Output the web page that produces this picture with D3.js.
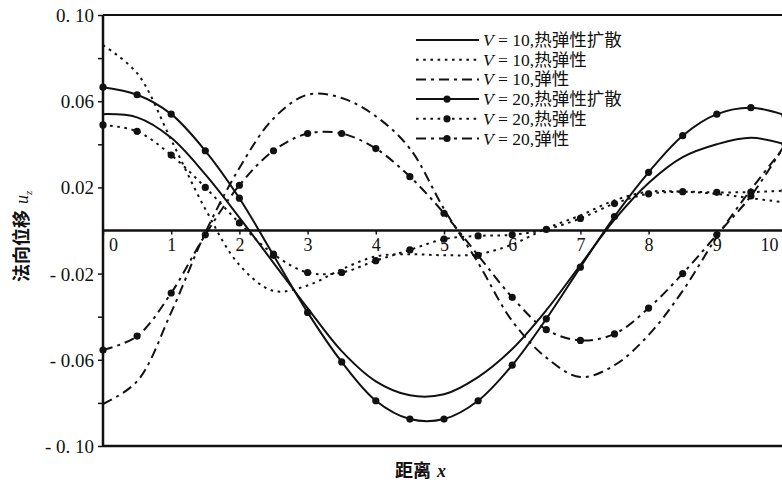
<!DOCTYPE html>
<html><head><meta charset="utf-8">
<script src="https://cdn.jsdelivr.net/npm/d3@7/dist/d3.min.js"></script>
<style>
html,body{margin:0;padding:0;background:#fff;}
svg{display:block;}
</style></head>
<body>
<svg id="chart" width="782" height="485"></svg>
<script>
// ---------- data ----------
const distances = [0,0.5,1,1.5,2,2.5,3,3.5,4,4.5,5,5.5,6,6.5,7,7.5,8,8.5,9,9.5,10];

const v10Diffusion = [0.054,0.0525,0.043,0.026,0.006,-0.015,-0.036,-0.056,-0.070,-0.0765,-0.076,-0.068,-0.055,-0.037,-0.016,0.005,0.022,0.034,0.040,0.043,0.040];
const v10Thermo    = [0.086,0.073,0.042,0.010,-0.016,-0.028,-0.0255,-0.018,-0.012,-0.011,-0.0115,-0.011,-0.0065,0.001,0.007,0.014,0.018,0.018,0.017,0.015,0.013];
const v10Elastic   = [-0.0805,-0.070,-0.038,-0.001,0.029,0.052,0.063,0.0615,0.053,0.038,0.010,-0.015,-0.042,-0.059,-0.068,-0.0625,-0.0485,-0.028,-0.003,0.019,0.039];
const v20Diffusion = [0.0665,0.063,0.054,0.037,0.015,-0.0115,-0.038,-0.061,-0.079,-0.0875,-0.0875,-0.079,-0.0625,-0.041,-0.017,0.0065,0.027,0.044,0.054,0.057,0.0535];
const v20Thermo    = [0.049,0.046,0.035,0.020,0.0035,-0.011,-0.0195,-0.0195,-0.014,-0.009,-0.004,-0.0025,-0.002,0.0005,0.0056,0.0125,0.017,0.018,0.0177,0.0178,0.0185];
const v20Elastic   = [-0.0555,-0.049,-0.029,-0.002,0.021,0.037,0.045,0.045,0.038,0.025,0.008,-0.0115,-0.031,-0.046,-0.051,-0.048,-0.036,-0.020,-0.002,0.016,0.040];

const legendSymbol = ["V","V","V","V","V","V"];
const legendValue  = [" = 10,"," = 10,"," = 10,"," = 20,"," = 20,"," = 20,"];
const legendKind   = ["热弹性扩散","热弹性","弹性","热弹性扩散","热弹性","弹性"];

const xTickValues = [0,1,2,3,4,5,6,7,8,9,10];
const xTickLabels = ["0","1","2","3","4","5","6","7","8","9","10"];
const yMajorValues = [0.10,0.06,0.02,-0.02,-0.06,-0.10];
const yMajorLabels = ["0. 10","0.06","0.02","- 0.02","- 0.06","- 0. 10"];
const yMinorValues = [0.08,0.04,-0.04,-0.08];

const yTitle = "法向位移";
const xTitle = "距离";

// ---------- styles ----------
const styles = [
  {dash:null, marker:false},
  {dash:"2.6,4.6", marker:false},
  {dash:"10,5,3,5", marker:false},
  {dash:null, marker:true},
  {dash:"2.6,4.6", marker:true},
  {dash:"10,5,3,5", marker:true}
];
const allSeries = [v10Diffusion,v10Thermo,v10Elastic,v20Diffusion,v20Thermo,v20Elastic];

// ---------- scales ----------
const svg = d3.select("#chart");
const x = d3.scaleLinear().domain([0,10]).range([103,785]);
const y = d3.scaleLinear().domain([-0.1,0.1]).range([446,15]);
const ink = "#111";
const serif = "'Liberation Serif','DejaVu Serif',serif";
const serifCjk = "'Liberation Serif','Noto Sans CJK SC','Noto Sans CJK JP',serif";
const cjk = "'Noto Sans CJK SC','Noto Sans CJK JP',sans-serif";

// frame
svg.append("line").attr("x1",x(0)).attr("x2",782).attr("y1",y(0.1)).attr("y2",y(0.1)).attr("stroke",ink).attr("stroke-width",2);
svg.append("line").attr("x1",x(0)).attr("x2",782).attr("y1",y(-0.1)).attr("y2",y(-0.1)).attr("stroke",ink).attr("stroke-width",2.5);
svg.append("line").attr("x1",x(0)).attr("x2",782).attr("y1",y(0)).attr("y2",y(0)).attr("stroke",ink).attr("stroke-width",2.5);

// y axis
const yAxis = d3.axisLeft(y).tickValues(yMajorValues.concat(yMinorValues))
  .tickSize(5).tickFormat(v => {const i = yMajorValues.indexOf(v); return i>=0 ? yMajorLabels[i] : "";});
const gy = svg.append("g").attr("transform",`translate(${x(0)},0)`).call(yAxis);
gy.select(".domain").attr("stroke",ink).attr("stroke-width",2.5).attr("d",`M0,${y(0.1)}V${y(-0.1)}`);
gy.selectAll(".tick line").attr("stroke",ink).attr("stroke-width",1.5);
gy.selectAll(".tick text").attr("font-family",serif).attr("font-size",19).attr("fill",ink).attr("x",-9).attr("dy","0.34em");

// x axis on zero line
const xAxis = d3.axisBottom(x).tickValues(xTickValues).tickSize(4)
  .tickFormat((v,i)=>xTickLabels[i]);
const gx = svg.append("g").attr("transform",`translate(0,${y(0)})`).call(xAxis);
gx.select(".domain").remove();
gx.selectAll(".tick line").attr("stroke",ink).attr("stroke-width",1.5);
gx.selectAll(".tick text").attr("font-family",serif).attr("font-size",18).attr("fill",ink).attr("y",8)
  .attr("dx",(v)=> v===0 ? 10 : (v===10 ? -16 : 0));

// curves
const line = d3.line().x((d,i)=>x(distances[i])).y(d=>y(d)).curve(d3.curveCatmullRom.alpha(0.5));
const plot = svg.append("g");
allSeries.forEach((s,k)=>{
  const st = styles[k];
  plot.append("path").attr("d",line(s)).attr("fill","none").attr("stroke",ink)
    .attr("stroke-width",2).attr("stroke-dasharray",st.dash);
  if(st.marker){
    plot.selectAll(null).data(s).enter().append("circle")
      .attr("cx",(d,i)=>x(distances[i])).attr("cy",d=>y(d)).attr("r",3.6).attr("fill",ink);
  }
});

// legend (one text per row; serif primary font, CJK by fallback)
const lg = svg.append("g");
legendKind.forEach((kind,k)=>{
  const cy = 40 + k*19.7;
  const st = styles[k];
  lg.append("line").attr("x1",416).attr("x2",479).attr("y1",cy).attr("y2",cy)
    .attr("stroke",ink).attr("stroke-width",2).attr("stroke-dasharray",st.dash);
  if(st.marker) lg.append("circle").attr("cx",447).attr("cy",cy).attr("r",3.6).attr("fill",ink);
  const t = lg.append("text").attr("x",483).attr("y",cy+6).attr("fill",ink)
    .attr("font-family",serifCjk).attr("font-size",17.5).style("white-space","pre");
  t.append("tspan").attr("font-style","italic").text(legendSymbol[k]);
  t.append("tspan").text(legendValue[k] + kind);
});

// axis titles
function runText(g, x0, yb, pieces){
  let cx = x0;
  pieces.forEach(p=>{
    const t = g.append("text").attr("x",cx).attr("y",yb).attr("fill",ink)
      .attr("font-size",p.size).attr("font-family",p.font).attr("font-style",p.italic?"italic":"normal")
      .attr("font-weight",p.bold?700:400).text(p.text);
    cx += t.node().getComputedTextLength() + (p.gap||0);
  });
  return cx;
}
const ytg = svg.append("g").attr("transform","translate(28,282) rotate(-90)");
const uEnd = runText(ytg, 0, 0, [
  {text:yTitle, font:cjk, size:18, bold:true, gap:6},
  {text:"u", font:serif, size:18, italic:true, gap:0}
]);
ytg.append("text").attr("x",uEnd).attr("y",4).attr("font-family",serif).attr("font-style","italic")
  .attr("font-size",11).attr("fill",ink).text("z");

const xtg = svg.append("g");
runText(xtg, 395, 477, [
  {text:xTitle, font:cjk, size:18, bold:true, gap:6},
  {text:"x", font:serif, size:18, italic:true, bold:true}
]);
</script>
</body></html>
